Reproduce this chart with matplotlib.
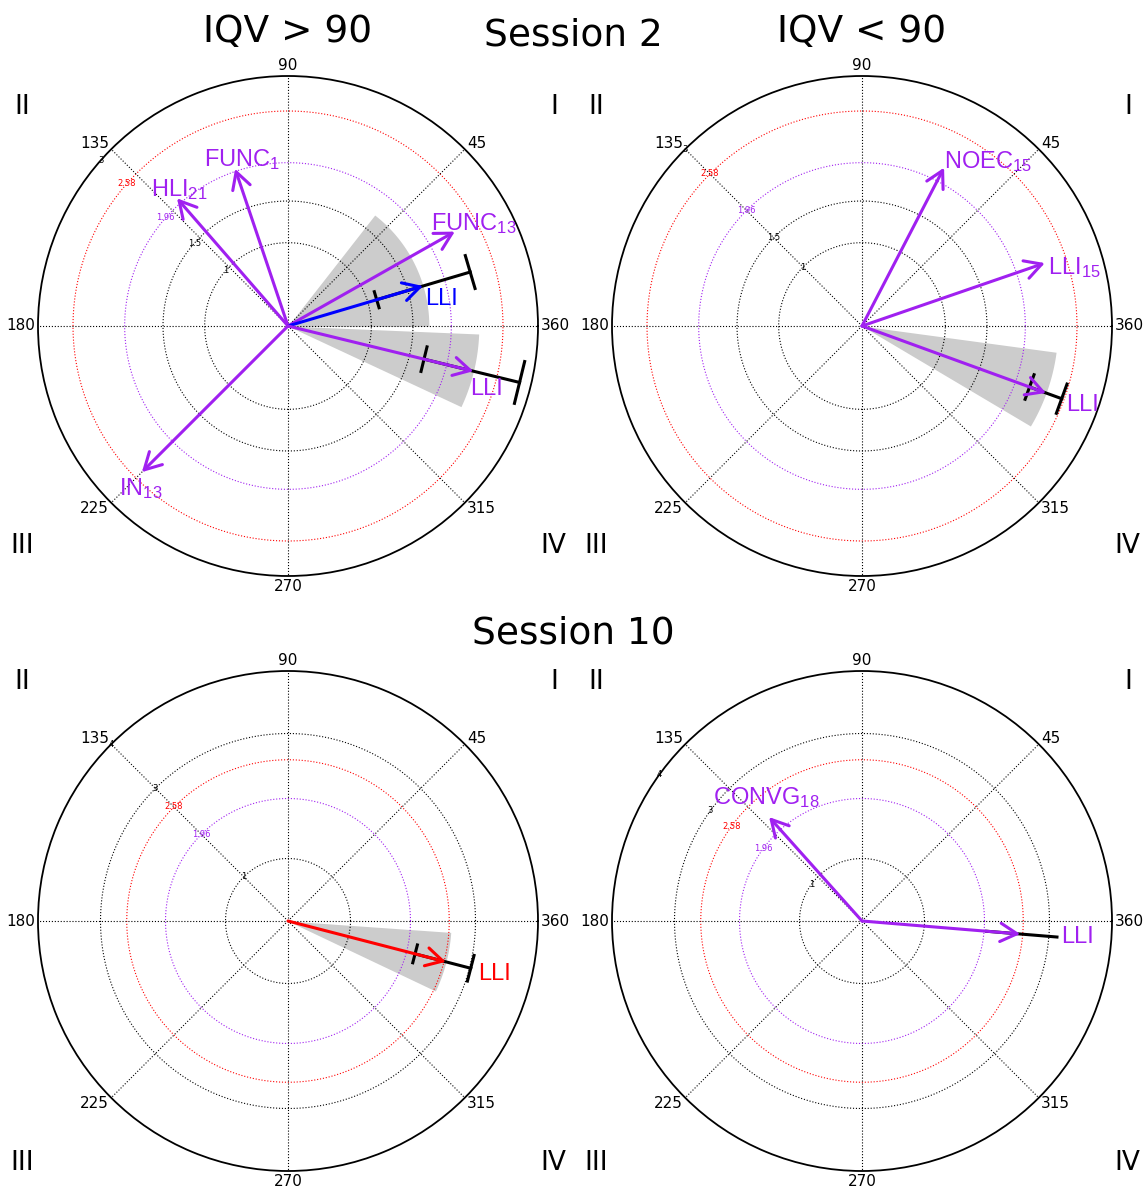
import numpy as np
import matplotlib.pyplot as plt

plt.rcParams['mathtext.default'] = 'regular'

PURPLE = '#A020F0'

# Session 2, IQV > 90
s2_hi_labels = ['FUNC$_{1}$', 'HLI$_{21}$', 'FUNC$_{13}$', 'LLI', 'IN$_{13}$', 'LLI']
s2_hi_angle = [108.6, 131, 29.5, 16.5, 225, -13.7]
s2_hi_length = [1.99, 2.03, 2.30, 1.69, 2.48, 2.29]
s2_hi_err_lo = [None, None, None, 1.11, None, 1.68]
s2_hi_err_hi = [None, None, None, 2.28, None, 2.86]
s2_hi_sector_lo = [None, None, None, 0, None, -25]
s2_hi_sector_hi = [None, None, None, 52, None, -2.4]

# Session 2, IQV < 90
s2_lo_labels = ['NOEC$_{15}$', 'LLI$_{15}$', 'LLI']
s2_lo_angle = [62.6, 19, -20]
s2_lo_length = [2.14, 2.32, 2.35]
s2_lo_err_lo = [None, None, 2.14]
s2_lo_err_hi = [None, None, 2.55]
s2_lo_sector_lo = [None, None, -30.7]
s2_lo_sector_hi = [None, None, -7.7]

# Session 10, IQV > 90
s10_hi_labels = ['LLI']
s10_hi_angle = [-14.5]
s10_hi_length = [2.61]
s10_hi_err_lo = [2.10]
s10_hi_err_hi = [3.02]
s10_hi_sector_lo = [-25.4]
s10_hi_sector_hi = [-4]

# Session 10, IQV < 90
s10_lo_labels = ['CONVG$_{18}$', 'LLI']
s10_lo_angle = [131.8, -4.7]
s10_lo_length = [2.23, 2.54]
s10_lo_err_lo = [None, 2.0]
s10_lo_err_hi = [None, 3.13]
s10_lo_sector_lo = [None, None]
s10_lo_sector_hi = [None, None]

rgrid_s2 = [1, 1.5, 1.96, 2.58, 3]
rgrid_s10 = [1, 1.96, 2.58, 3, 4]
theta_ticks = [0, 45, 90, 135, 180, 225, 270, 315]
theta_labels = ['360', '45', '90', '135', '180', '225', '270', '315']


def rcolor(v):
    if v == 1.96:
        return PURPLE
    if v == 2.58:
        return 'red'
    return 'black'


def draw_panel(ax, labels, angle, length, err_lo, err_hi, sec_lo, sec_hi,
               colors, text_pos, rgrid, rmax, rlabel_angle, cap_w, caps=True):
    ax.set_ylim(0, rmax)
    ax.set_thetagrids(theta_ticks, labels=[''] * len(theta_ticks))
    ax.tick_params(axis='x', length=0)
    ax.xaxis.grid(True, linestyle=':', color='k', lw=0.8)
    # theta labels placed just outside the rim
    for deg, lab in zip(theta_ticks, theta_labels):
        c, s = np.cos(np.radians(deg)), np.sin(np.radians(deg))
        if abs(c) > 0.1 and abs(s) > 0.1:
            ha = 'left' if c > 0 else 'right'
            va = 'center'
            off = (2 * np.sign(c), 6 * np.sign(s))
        else:
            ha = 'left' if c > 0.1 else ('right' if c < -0.1 else 'center')
            va = 'bottom' if s > 0.1 else ('top' if s < -0.1 else 'center')
            off = (3 * c, 3 * s)
        ax.annotate(lab, xy=(np.radians(deg), rmax), xytext=off,
                    textcoords='offset pixels', ha=ha, va=va, fontsize=11,
                    annotation_clip=False)
    ax.set_rgrids(rgrid, labels=[''] * len(rgrid))
    ax.yaxis.grid(False)
    circ = np.linspace(0, 2 * np.pi, 400)
    ra = np.radians(rlabel_angle)
    for v in rgrid:
        if v < rmax:
            ax.plot(circ, np.full_like(circ, v), ls=':', color=rcolor(v), lw=0.8, zorder=1.5)
        ax.text(ra, v, '%g' % v, ha='center', va='center', fontsize=6,
                color=rcolor(v), zorder=2)
    ax.spines['polar'].set_linewidth(1.3)

    for i, lab in enumerate(labels):
        t = np.radians(angle[i])
        r = length[i]
        if sec_lo[i] is not None:
            th = np.radians(np.linspace(sec_lo[i], sec_hi[i], 60))
            ax.fill_between(th, 0, r, color='0.8', lw=0, zorder=1)
        if err_lo[i] is not None:
            ax.plot([t, t], [err_lo[i], err_hi[i]], color='k', lw=2.2, zorder=3)
            if caps:
                a = np.linspace(-cap_w, cap_w, 20)
                for rr in (err_lo[i], err_hi[i]):
                    ax.plot(t + a, rr / np.cos(a), color='k', lw=2.2, zorder=3)
        ax.annotate('', xy=(t, r), xytext=(0, 0),
                    arrowprops=dict(arrowstyle='->, head_length=0.6, head_width=0.33',
                                    color=colors[i], lw=2.2, shrinkA=0, shrinkB=0,
                                    mutation_scale=20), zorder=4)
        dx, dy, ha, va = text_pos[i]
        ax.annotate(lab, xy=(t, r), xytext=(dx, dy), textcoords='offset pixels',
                    ha=ha, va=va, color=colors[i], fontsize=17,
                    family='Liberation Sans', zorder=5)


fig = plt.figure(figsize=(11.43, 11.88), dpi=100)
W, H = 1143, 1188


def add_polar(x0, ytop):
    return fig.add_axes([x0 / W, 1 - (ytop + 500) / H, 500 / W, 500 / H], projection='polar')


ax1 = add_polar(38, 76)
ax2 = add_polar(612, 76)
ax3 = add_polar(38, 671)
ax4 = add_polar(612, 671)

draw_panel(ax1, s2_hi_labels, s2_hi_angle, s2_hi_length, s2_hi_err_lo, s2_hi_err_hi,
           s2_hi_sector_lo, s2_hi_sector_hi,
           [PURPLE, PURPLE, PURPLE, 'blue', PURPLE, PURPLE],
           [(7, -3, 'center', 'bottom'), (2, -4, 'center', 'bottom'), (19, -4, 'center', 'bottom'),
            (2, -2, 'left', 'top'), (-1, -4, 'center', 'top'), (-3, -7, 'left', 'top')],
           rgrid_s2, 3, 138.5, 0.09)
draw_panel(ax2, s2_lo_labels, s2_lo_angle, s2_lo_length, s2_lo_err_lo, s2_lo_err_hi,
           s2_lo_sector_lo, s2_lo_sector_hi,
           [PURPLE, PURPLE, PURPLE],
           [(0, -6, 'left', 'bottom'), (3, -4, 'left', 'center'), (20, -1, 'left', 'top')],
           rgrid_s2, 3, 135, 0.073)
draw_panel(ax3, s10_hi_labels, s10_hi_angle, s10_hi_length, s10_hi_err_lo, s10_hi_err_hi,
           s10_hi_sector_lo, s10_hi_sector_hi,
           ['red'],
           [(32, -1, 'left', 'top')],
           rgrid_s10, 4, 135, 0.07)
draw_panel(ax4, s10_lo_labels, s10_lo_angle, s10_lo_length, s10_lo_err_lo, s10_lo_err_hi,
           s10_lo_sector_lo, s10_lo_sector_hi,
           [PURPLE, PURPLE],
           [(-3, 7, 'center', 'bottom'), (41, -3, 'left', 'center')],
           rgrid_s10, 4, 144, 0.07, caps=False)

# quadrant labels
for ax, yt, yb in [(ax1, 0.938, 0.06), (ax2, 0.938, 0.06), (ax3, 0.978, 0.016), (ax4, 0.978, 0.016)]:
    ax.text(-0.032, yt, 'II', transform=ax.transAxes, ha='center', va='center', fontsize=19)
    ax.text(1.032, yt, 'I', transform=ax.transAxes, ha='center', va='center', fontsize=19)
    ax.text(-0.032, yb, 'III', transform=ax.transAxes, ha='center', va='center', fontsize=19)
    ax.text(1.03, yb, 'IV', transform=ax.transAxes, ha='center', va='center', fontsize=19)

fig.text(288 / W, 1 - 32 / H, 'IQV > 90', ha='center', va='center', fontsize=27)
fig.text(862 / W, 1 - 32 / H, 'IQV < 90', ha='center', va='center', fontsize=27)
fig.text(573 / W, 1 - 36 / H, 'Session 2', ha='center', va='center', fontsize=27)
fig.text(573 / W, 1 - 634 / H, 'Session 10', ha='center', va='center', fontsize=27)

fig.savefig('out.png', dpi=100)
